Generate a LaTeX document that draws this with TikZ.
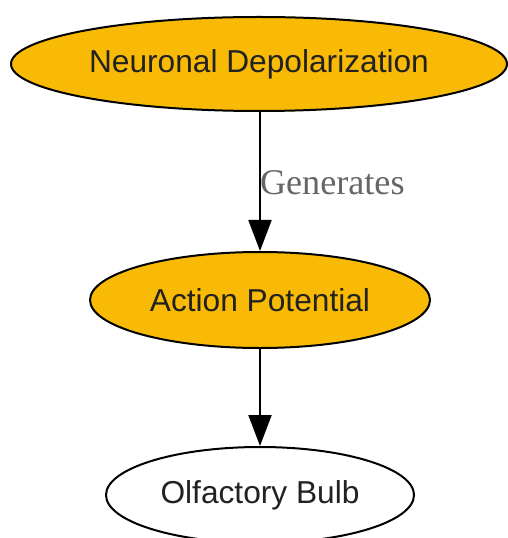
\documentclass[tikz,border=0pt]{standalone}
\usepackage{fontspec}
\setmainfont{Liberation Sans}
\newfontfamily\edgefont{Liberation Serif}
\usepackage{xcolor}
\usepackage{tikz}
\usetikzlibrary{arrows.meta, positioning, shapes.geometric}

\definecolor{goldfill}{RGB}{249,186,6}
\definecolor{nodetext}{RGB}{34,34,34}
\definecolor{edgetext}{RGB}{102,102,102}

\begin{document}
\begin{tikzpicture}[x=1bp, y=-1bp,
    state/.style={ellipse, draw=black, line width=2bp, inner sep=0pt,
      text=nodetext, font=\fontsize{31.8}{36}\selectfont},
    hot/.style={state, fill=goldfill},
    edge/.style={line width=2bp, -{Triangle[length=31bp, width=23bp]}},
    edgelabel/.style={text=edgetext, inner sep=0pt,
      font=\edgefont\fontsize{36.3}{40}\selectfont}]
  % Page frame
  \useasboundingbox (0,0) rectangle (508,538);

  % Nodes
  \node[hot, minimum width=496bp, minimum height=94bp] (depol) at (259,64) {Neuronal Depolarization};
  \node[hot, minimum width=340bp, minimum height=96bp] (ap) at (260,300) {Action Potential};
  \node[state, fill=white, minimum width=308bp, minimum height=96bp] (bulb) at (260,495) {Olfactory Bulb};

  % Edges
  \draw[edge] (depol.south -| ap.north) -- node[edgelabel, right, xshift=-1bp, yshift=-1bp] {Generates} (ap.north);
  \draw[edge] (ap) -- (bulb);
\end{tikzpicture}
\end{document}
